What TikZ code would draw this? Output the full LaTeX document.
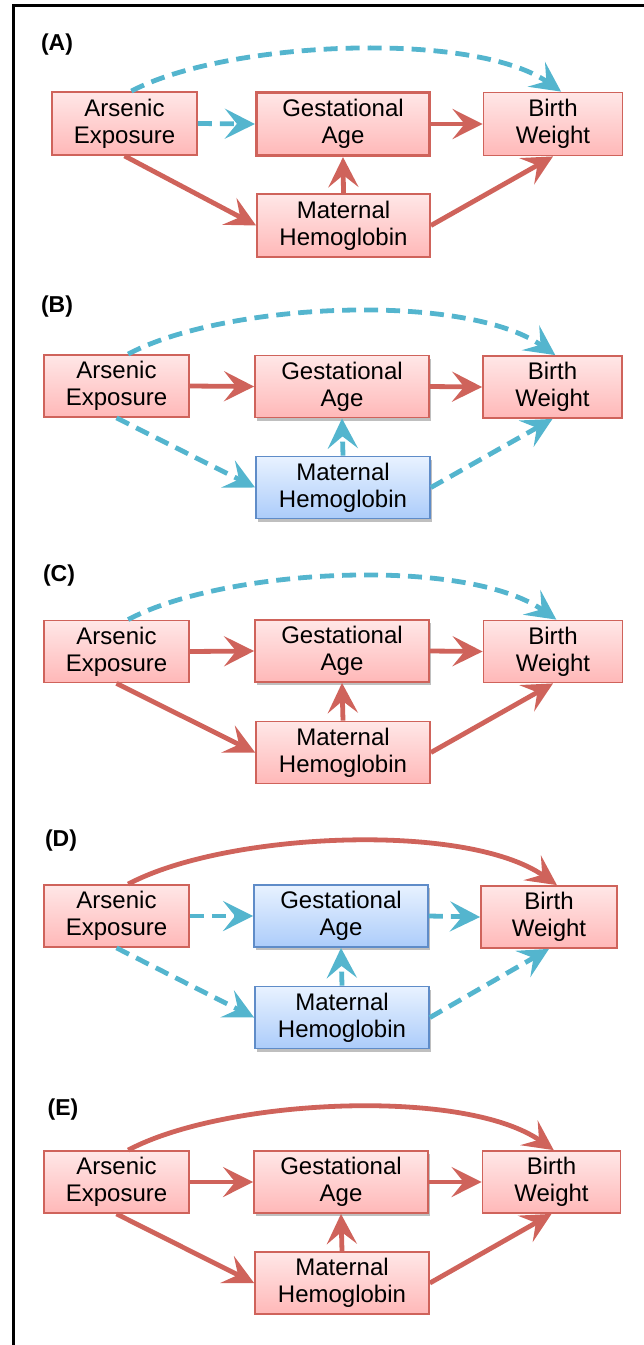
\documentclass[tikz,border=0pt]{standalone}
\usepackage{fontspec}
\setmainfont{Liberation Sans}
\usepackage{tikz}
\usetikzlibrary{arrows.meta}
\usetikzlibrary{shadows}
\definecolor{coral}{RGB}{207, 99, 91}
\definecolor{rosetop}{RGB}{255, 231, 231}
\definecolor{rosebottom}{RGB}{255, 184, 184}
\definecolor{skyline}{RGB}{84, 181, 206}
\definecolor{steel}{RGB}{95, 140, 200}
\definecolor{icetop}{RGB}{232, 242, 255}
\definecolor{icebottom}{RGB}{172, 204, 250}

\tikzset{
  cell/.style={align=center, inner sep=0pt, minimum height=62pt, font=\fontsize{24}{27}\selectfont},
  redbox/.style={cell, draw=coral, line width=1.8pt, top color=rosetop, bottom color=rosebottom},
  bluebox/.style={cell, draw=steel, line width=1.8pt, top color=icetop, bottom color=icebottom},
  lift/.style={drop shadow={shadow xshift=1.5pt, shadow yshift=-3pt, opacity=0.25, fill=black}},
  redarrow/.style={coral, line width=4.8pt, -{Stealth[length=30pt, width=30pt, inset=12pt]}},
  bluearrow/.style={skyline, line width=4.8pt, dash pattern=on 14pt off 8pt, -{Stealth[length=30pt, width=30pt, inset=12pt]}},
  tag/.style={font=\bfseries\fontsize{23}{26}\selectfont}
}

\begin{document}
\begin{tikzpicture}[x=1pt, y=1pt]
  \useasboundingbox (0,0) rectangle (644,-1345);
  \draw[line width=2.5pt] (644,-5.5) -- (13.5,-5.5) -- (13.5,-1345);

  % (A)
  \node[tag]                                         (tag-a)  at (57,-45)       {(A)};
  \node[redbox, minimum width=145pt, minimum height=63pt] (ars-a)  at (124.5,-123.5) {Arsenic\\Exposure};
  \node[redbox, line width=3.2pt, minimum width=173pt, minimum height=63pt] (gest-a) at (343,-124) {Gestational\\Age};
  \node[redbox, minimum width=139pt, minimum height=63pt] (bw-a)   at (553,-124)     {Birth\\Weight};
  \node[redbox, minimum width=173pt, minimum height=63pt] (mh-a)   at (343.5,-225.5) {Maternal\\Hemoglobin};
  \draw[bluearrow] (ars-a.78) to[out=28, in=145, looseness=0.64] (bw-a.76);
  \draw[bluearrow] (ars-a.east)  -- (gest-a.west);
  \draw[redarrow]  (gest-a.east) -- (bw-a.west);
  \draw[redarrow]  (ars-a.south) -- (mh-a.west);
  \draw[redarrow]  (mh-a.north)  -- (gest-a.south);
  \draw[redarrow]  (mh-a.east)   -- (bw-a.south);

  % (B)
  \node[tag]                                    (tag-b)  at (57,-307)     {(B)};
  \node[redbox, minimum width=145pt]            (ars-b)  at (116.5,-386)  {Arsenic\\Exposure};
  \node[redbox, lift, minimum width=174pt]      (gest-b) at (342,-386.5)  {Gestational\\Age};
  \node[redbox, minimum width=139pt]            (bw-b)   at (552.5,-387)  {Birth\\Weight};
  \node[bluebox, lift, minimum width=174pt]     (mh-b)   at (343,-487.5)  {Maternal\\Hemoglobin};
  \draw[bluearrow] (ars-b.70) to[out=28, in=145, looseness=0.66] (bw-b.85);
  \draw[redarrow]  (ars-b.east)  -- (gest-b.west);
  \draw[redarrow]  (gest-b.east) -- (bw-b.west);
  \draw[bluearrow] (ars-b.south) -- (mh-b.west);
  \draw[bluearrow] (mh-b.north)  -- (gest-b.south);
  \draw[bluearrow] (mh-b.east)   -- (bw-b.south);

  % (C)
  \node[tag]                                    (tag-c)  at (59,-576)     {(C)};
  \node[redbox, minimum width=145pt]            (ars-c)  at (116.5,-651.5) {Arsenic\\Exposure};
  \node[redbox, lift, minimum width=174pt]      (gest-c) at (342,-651)    {Gestational\\Age};
  \node[redbox, minimum width=139pt]            (bw-c)   at (553,-651.5)  {Birth\\Weight};
  \node[redbox, minimum width=174pt]            (mh-c)   at (343,-752.5)  {Maternal\\Hemoglobin};
  \draw[bluearrow] (ars-c.70) to[out=28, in=145, looseness=0.66] (bw-c.84);
  \draw[redarrow]  (ars-c.east)  -- (gest-c.west);
  \draw[redarrow]  (gest-c.east) -- (bw-c.west);
  \draw[redarrow]  (ars-c.south) -- (mh-c.west);
  \draw[redarrow]  (mh-c.north)  -- (gest-c.south);
  \draw[redarrow]  (mh-c.east)   -- (bw-c.south);

  % (D)
  \node[tag]                                    (tag-d)  at (61,-841)     {(D)};
  \node[redbox, minimum width=145pt]            (ars-d)  at (116.5,-916)  {Arsenic\\Exposure};
  \node[bluebox, lift, minimum width=174pt]     (gest-d) at (341,-916)    {Gestational\\Age};
  \node[redbox, minimum width=136pt]            (bw-d)   at (549,-917)    {Birth\\Weight};
  \node[bluebox, lift, minimum width=174pt]     (mh-d)   at (342,-1017.5) {Maternal\\Hemoglobin};
  \draw[redarrow]  (ars-d.70) to[out=28, in=145, looseness=0.66] (bw-d.76);
  \draw[bluearrow] (ars-d.east)  -- (gest-d.west);
  \draw[bluearrow] (gest-d.east) -- (bw-d.west);
  \draw[bluearrow] (ars-d.south) -- (mh-d.west);
  \draw[bluearrow] (mh-d.north)  -- (gest-d.south);
  \draw[bluearrow] (mh-d.east)   -- (bw-d.south);

  % (E)
  \node[tag]                                    (tag-e)  at (63,-1110)    {(E)};
  \node[redbox, minimum width=145pt]            (ars-e)  at (116.5,-1182) {Arsenic\\Exposure};
  \node[redbox, lift, minimum width=174pt]      (gest-e) at (341,-1182)   {Gestational\\Age};
  \node[redbox, minimum width=138pt]            (bw-e)   at (551.5,-1182) {Birth\\Weight};
  \node[redbox, minimum width=174pt]            (mh-e)   at (342,-1283)   {Maternal\\Hemoglobin};
  \draw[redarrow]  (ars-e.70) to[out=28, in=145, looseness=0.66] (bw-e.86);
  \draw[redarrow]  (ars-e.east)  -- (gest-e.west);
  \draw[redarrow]  (gest-e.east) -- (bw-e.west);
  \draw[redarrow]  (ars-e.south) -- (mh-e.west);
  \draw[redarrow]  (mh-e.north)  -- (gest-e.south);
  \draw[redarrow]  (mh-e.east)   -- (bw-e.south);
\end{tikzpicture}
\end{document}
